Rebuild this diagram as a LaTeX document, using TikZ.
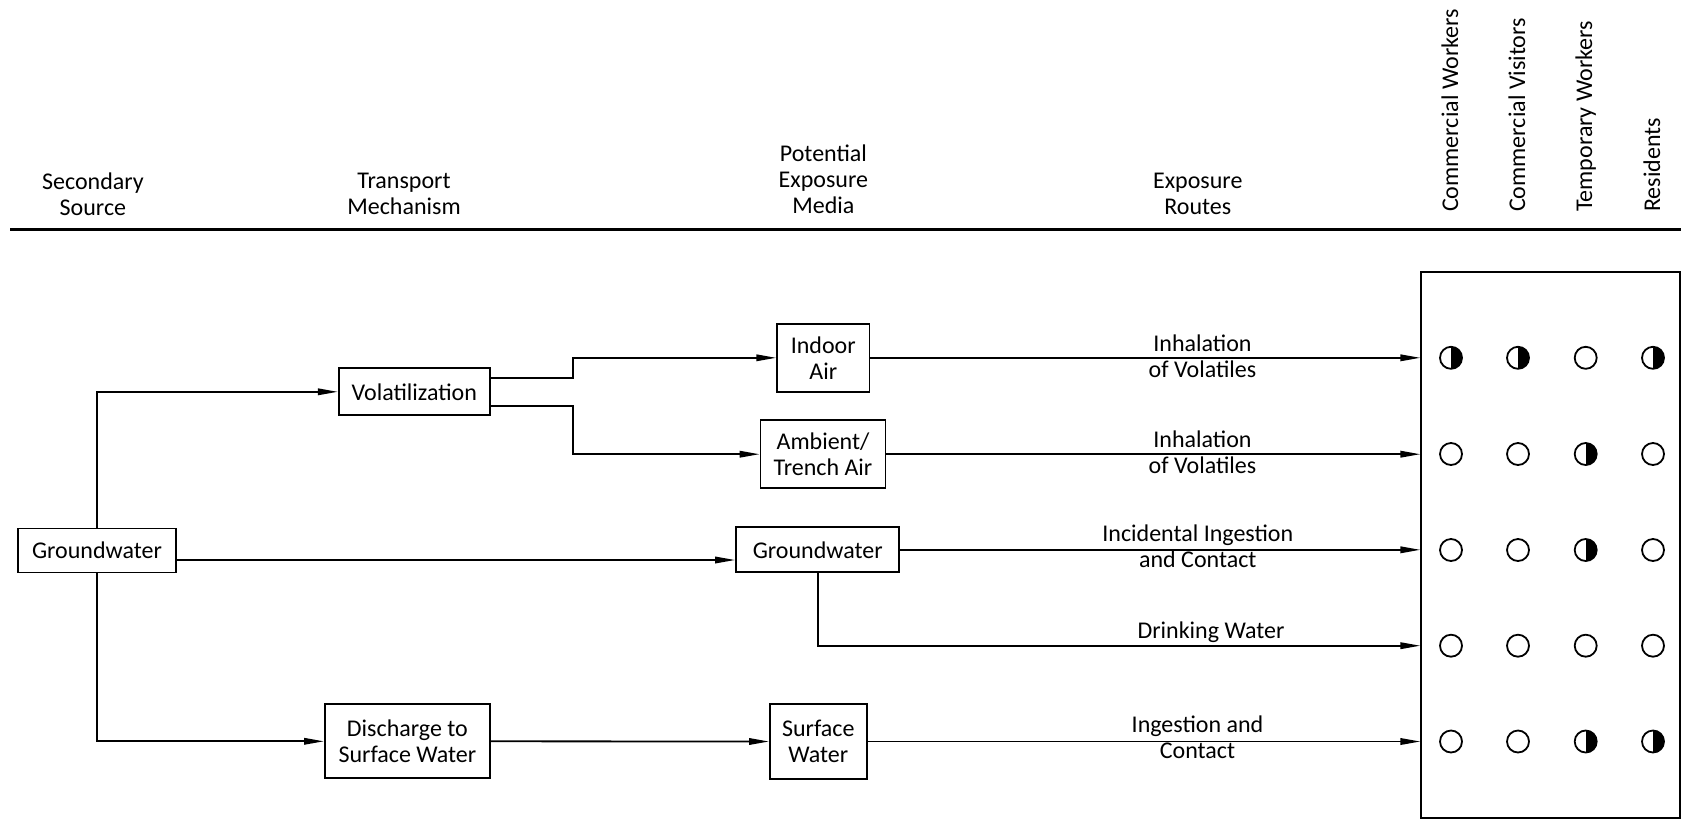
\documentclass[tikz,border=0pt]{standalone}
\usepackage{fontspec}
\setmainfont{Carlito}
\usetikzlibrary{arrows.meta}
\begin{document}
\begin{tikzpicture}[x=1pt,y=-1pt,
  every node/.style={font=\fontsize{24}{26}\selectfont, inner sep=0pt},
  box/.style={draw, line width=1.8pt, align=center},
  arr/.style={line width=1.8pt, -{Triangle[length=20pt,width=6.5pt]}},
  lbl/.style={anchor=base, align=center},
  vlbl/.style={rotate=90, anchor=base west},
  dot/.style={circle, draw, line width=1.8pt, minimum size=22pt},
  half/.style={dot, path picture={\fill (path picture bounding box.north) rectangle (path picture bounding box.south east);}},
]
\useasboundingbox (0,0) rectangle (1681,820);

% header (base anchor = baseline of last line)
\node[lbl] (hs) at (92.9,215) {Secondary\\Source};
\node[lbl] (ht) at (404,214.3) {Transport\\Mechanism};
\node[lbl] (hp) at (823.4,213.7) {Potential\\Exposure\\Media};
\node[lbl] (he) at (1197.8,214.3) {Exposure\\Routes};
\node[vlbl] (hcw) at (1458,212) {Commercial Workers};
\node[vlbl] (hcv) at (1525,212) {Commercial Visitors};
\node[vlbl] (htw) at (1592,212) {Temporary Workers};
\node[vlbl] (hr) at (1660,212) {Residents};
\coordinate (hl1) at (10,229.3);
\coordinate (hl2) at (1681,229.3);
\draw[line width=2.5pt] (hl1) -- (hl2);

% boxes
\node[box, minimum width=158pt, minimum height=44pt] (gwL) at (97,550.5) {Groundwater};
\node[box, minimum width=151pt, minimum height=47pt] (vol) at (414.3,391.8) {Volatilization};
\node[box, minimum width=92.3pt, minimum height=67.7pt] (indoor) at (823.3,357.8) {Indoor\\Air};
\node[box, minimum width=125pt, minimum height=68.3pt] (amb) at (823,454.2) {Ambient/\\Trench Air};
\node[box, minimum width=163.3pt, minimum height=45pt] (gwM) at (817.7,549.8) {Groundwater};
\node[box, minimum width=165pt, minimum height=74pt] (dis) at (407.4,741.3) {Discharge to\\Surface Water};
\node[box, minimum width=96.7pt, minimum height=75.3pt] (sw) at (818.3,741.5) {Surface\\Water};
\node[draw, line width=1.8pt, minimum width=258.7pt, minimum height=545.7pt] (panel) at (1550.65,545.15) {};

% connectors
\coordinate (gwrow) at (0,560);
\coordinate (vjog) at (573.2,0);
\coordinate (dwrow) at (0,645.7);
\draw[arr] (gwL.north) |- (vol.west);
\draw[arr] (gwL.south) |- (dis.west);
\draw[arr] (gwL.east |- gwrow) -- (gwM.west |- gwrow);
\draw[arr] ([yshift=13.5pt]vol.east) -| (vjog |- indoor.west) -- (indoor.west);
\draw[arr] ([yshift=-14.2pt]vol.east) -| (vjog |- amb.west) -- (amb.west);
\draw[arr] (indoor.east) -- (indoor.east -| panel.west);
\draw[arr] (amb.east) -- (amb.east -| panel.west);
\draw[arr] (gwM.east) -- (gwM.east -| panel.west);
\draw[arr] (gwM.south) |- (panel.west |- dwrow);
\draw[arr] (dis.east) -- (sw.west);
\draw[arr] (sw.east) -- (sw.east -| panel.west);

% labels (base anchor = baseline of last line)
\node[lbl] (l1) at (1202.5,377) {Inhalation\\of Volatiles};
\node[lbl] (l2) at (1202.5,473) {Inhalation\\of Volatiles};
\node[lbl] (l3) at (1197.8,567.7) {Incidental Ingestion\\and Contact};
\node[lbl] (l4) at (1211,638) {Drinking Water};
\node[lbl] (l5) at (1197.5,758) {Ingestion and\\Contact};

% circles
\node[half] (c11) at (1451,357.8) {};
\node[half] (c12) at (1518,357.8) {};
\node[dot]  (c13) at (1585.7,357.8) {};
\node[half] (c14) at (1653,357.8) {};
\node[dot]  (c21) at (1451,454) {};
\node[dot]  (c22) at (1518,454) {};
\node[half] (c23) at (1585.7,454) {};
\node[dot]  (c24) at (1653,454) {};
\node[dot]  (c31) at (1451,550) {};
\node[dot]  (c32) at (1518,550) {};
\node[half] (c33) at (1585.7,550) {};
\node[dot]  (c34) at (1653,550) {};
\node[dot]  (c41) at (1451,645.7) {};
\node[dot]  (c42) at (1518,645.7) {};
\node[dot]  (c43) at (1585.7,645.7) {};
\node[dot]  (c44) at (1653,645.7) {};
\node[dot]  (c51) at (1451,741.5) {};
\node[dot]  (c52) at (1518,741.5) {};
\node[half] (c53) at (1585.7,741.5) {};
\node[half] (c54) at (1653,741.5) {};
\end{tikzpicture}
\end{document}
